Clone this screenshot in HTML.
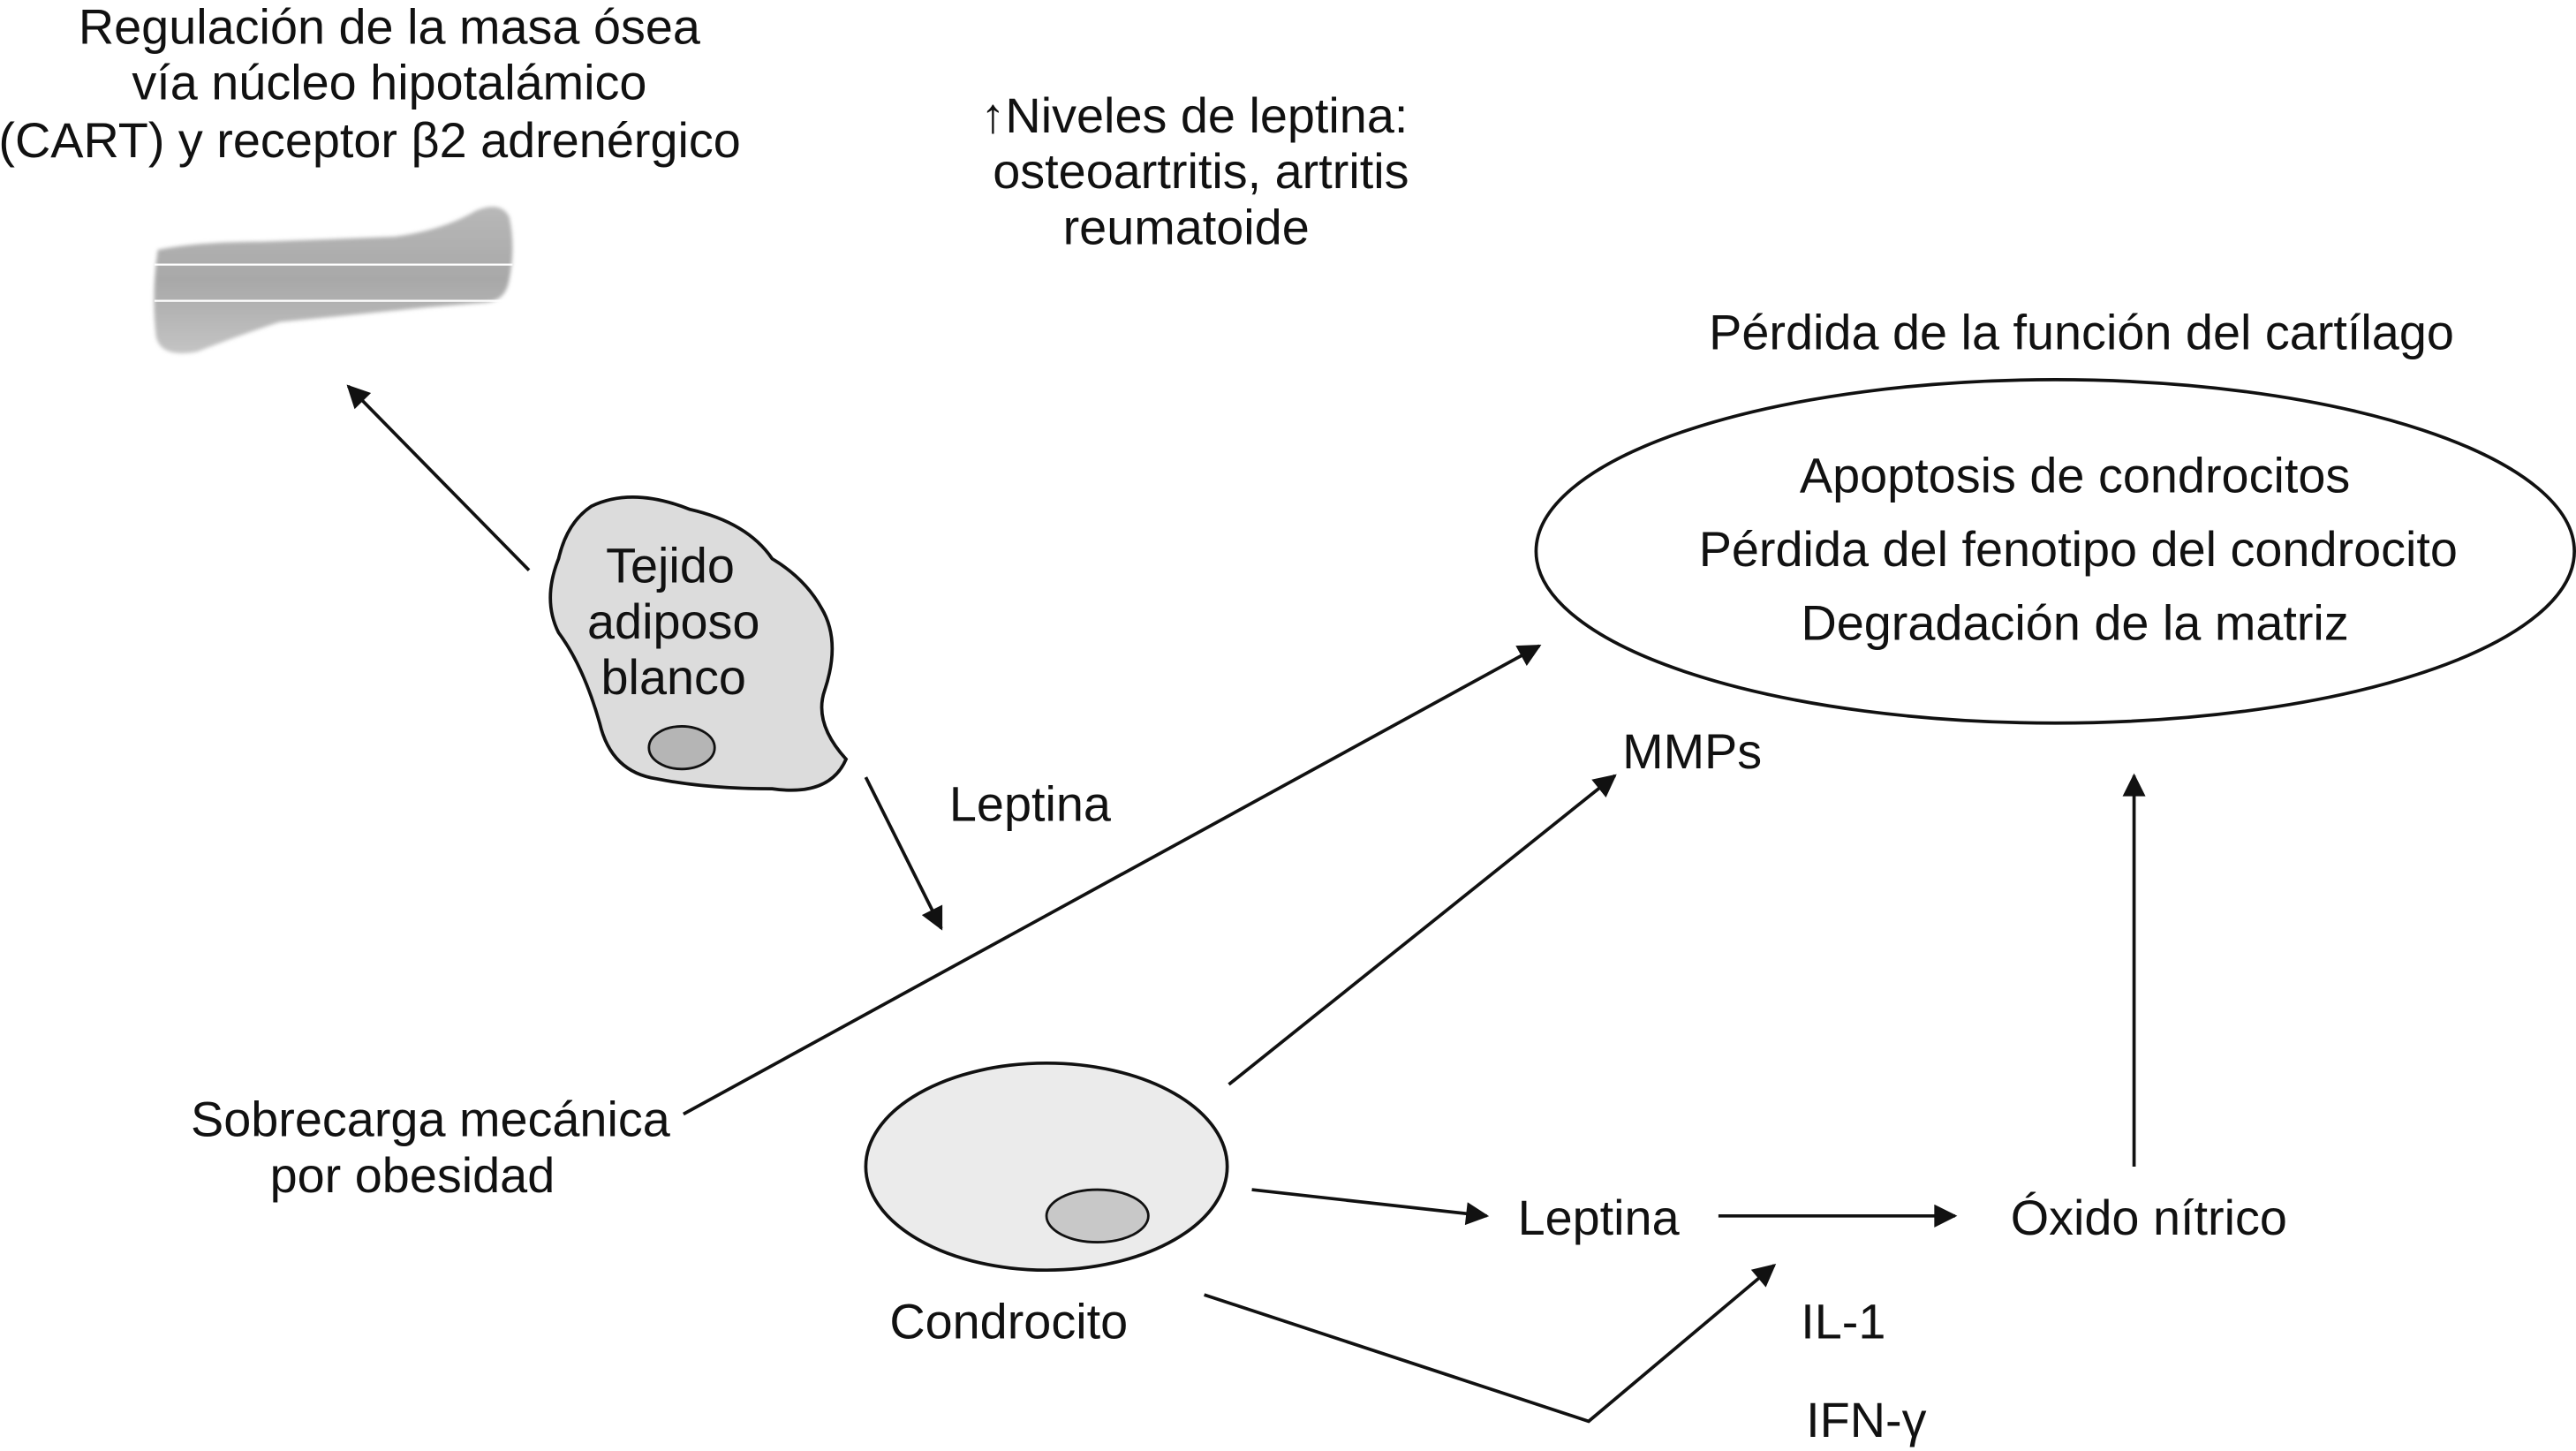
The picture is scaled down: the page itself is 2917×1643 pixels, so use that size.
<!DOCTYPE html>
<html><head><meta charset="utf-8"><style>
html,body{margin:0;padding:0;background:#fff;}
svg{display:block;}
text{font-family:"Liberation Sans",Arial,sans-serif;font-size:30px;fill:#111;text-anchor:middle;dominant-baseline:central;}
</style></head><body>
<svg width="2917" height="1643" viewBox="0 0 1568 883" xmlns="http://www.w3.org/2000/svg">
<defs>
<marker id="b" viewBox="0 0 10 10" refX="9" refY="5" markerWidth="18" markerHeight="14" markerUnits="userSpaceOnUse" orient="auto">
<path d="M0,0 L10,5 L0,10 z" fill="#111"/></marker>
<linearGradient id="g" x1="0" y1="0" x2="0" y2="1"><stop offset="0" stop-color="#b8b8b8"/><stop offset="0.5" stop-color="#a8a8a8"/><stop offset="1" stop-color="#c4c4c4"/></linearGradient>
<filter id="f"><feGaussianBlur stdDeviation="1.2"/></filter>
</defs>
<text x="237" y="16">Regulación de la masa ósea</text>
<text x="237" y="50">vía núcleo hipotalámico</text>
<text x="225" y="85">(CART) y receptor β2 adrenérgico</text>
<text x="727" y="70">↑Niveles de leptina:</text>
<text x="731" y="104">osteoartritis, artritis</text>
<text x="722" y="138">reumatoide</text>
<!-- bone -->
<path filter="url(#f)" d="M96,152 Q120,147 160,147 L240,144 Q270,140 290,128 Q305,122 310,132 Q314,150 310,170 Q308,183 296,184 L260,187 L170,196 Q140,206 120,214 Q98,218 95,205 Q92,180 96,152 z" fill="url(#g)"/>
<line x1="94" y1="161" x2="312" y2="161" stroke="#fff" stroke-width="1.2"/>
<line x1="94" y1="183" x2="312" y2="183" stroke="#fff" stroke-width="1.2"/>
<line x1="322" y1="347" x2="212" y2="235" stroke="#111" stroke-width="2" marker-end="url(#b)"/>
<!-- blob -->
<path d="M360,308 Q385,296 420,310 Q455,318 470,340 Q490,352 500,370 Q512,390 502,420 Q495,440 515,462 Q505,485 470,480 Q430,480 400,474 Q372,470 365,440 Q355,405 340,385 Q330,365 340,340 Q345,318 360,308 z" fill="#dcdcdc" stroke="#111" stroke-width="2"/>
<ellipse cx="415" cy="455" rx="20" ry="13" fill="#b5b5b5" stroke="#111" stroke-width="1.5"/>
<text x="408" y="344">Tejido</text>
<text x="410" y="378">adiposo</text>
<text x="410" y="412">blanco</text>
<text x="627" y="489">Leptina</text>
<line x1="527" y1="473" x2="573" y2="565" stroke="#111" stroke-width="2" marker-end="url(#b)"/>
<text x="1267" y="202">Pérdida de la función del cartílago</text>
<ellipse cx="1251" cy="335.5" rx="316" ry="104.5" fill="none" stroke="#111" stroke-width="2"/>
<text x="1263" y="289">Apoptosis de condrocitos</text>
<text x="1265" y="334">Pérdida del fenotipo del condrocito</text>
<text x="1263" y="379">Degradación de la matriz</text>
<line x1="416" y1="678" x2="937" y2="393" stroke="#111" stroke-width="2" marker-end="url(#b)"/>
<text x="1030" y="457">MMPs</text>
<line x1="748" y1="660" x2="983" y2="472" stroke="#111" stroke-width="2" marker-end="url(#b)"/>
<text x="262" y="681">Sobrecarga mecánica</text>
<text x="251" y="715">por obesidad</text>
<ellipse cx="637" cy="710" rx="110" ry="63" fill="#ebebeb" stroke="#111" stroke-width="2"/>
<ellipse cx="668" cy="740" rx="31" ry="16" fill="#c8c8c8" stroke="#111" stroke-width="1.5"/>
<text x="614" y="804">Condrocito</text>
<line x1="762" y1="724" x2="905" y2="740" stroke="#111" stroke-width="2" marker-end="url(#b)"/>
<text x="973" y="741">Leptina</text>
<line x1="1046" y1="740" x2="1190" y2="740" stroke="#111" stroke-width="2" marker-end="url(#b)"/>
<text x="1308" y="741">Óxido nítrico</text>
<line x1="1299" y1="710" x2="1299" y2="472" stroke="#111" stroke-width="2" marker-end="url(#b)"/>
<polyline points="733,788 967,865 1080,770" fill="none" stroke="#111" stroke-width="2" marker-end="url(#b)"/>
<text x="1122" y="804">IL-1</text>
<text x="1136" y="864">IFN-γ</text>
</svg>
</body></html>
